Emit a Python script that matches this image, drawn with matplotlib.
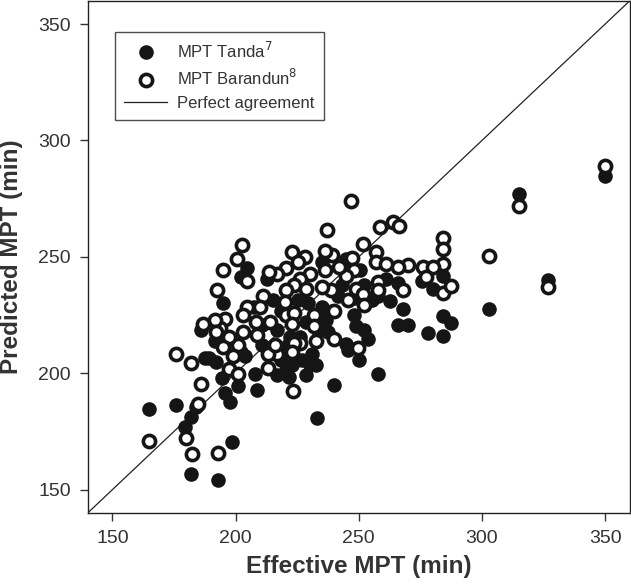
import matplotlib
import matplotlib.pyplot as plt
from matplotlib.lines import Line2D
matplotlib.use('Agg')

plt.rcParams['font.family'] = ['Liberation Sans', 'DejaVu Sans']

# MPT Tanda (filled)
tanda_x = [350, 315.2, 327, 303, 278, 284.3, 287.4, 284.3, 284.1, 280, 275.5,
           268.1, 266.1, 270.2, 262.8, 266.1, 258, 250.5, 252.2, 252.2, 253.8,
           250.2, 248.9, 248.1, 244.8, 245.7, 240, 232.9, 230.1, 232.6, 230.9,
           226.9, 222.8, 226, 222, 217, 217, 208.9, 207.7, 201, 197.9, 195.8,
           194.6, 198.7, 192.8, 182.1, 182, 179.4, 175.8, 164.7, 184, 187.6,
           189.3, 192, 191.7, 195, 202.3, 204.8, 202.3, 203.9, 186, 212.6,
           225.2, 229.3, 235, 239.1, 241.5, 236.6, 228.4, 233.4, 237.5, 261.2,
           258, 255.5, 244.8, 235, 243.2, 248.1, 218.5, 215.3, 207.4, 210.7,
           221.1, 218.5, 210.7, 220.3, 221.9, 228.4]
tanda_y = [284.7, 277.1, 240, 227.6, 217.1, 216, 221.6, 224.8, 242, 236.4, 239.6,
           227.6, 220.6, 220.6, 231.1, 238.8, 199.7, 244.4, 238, 218.7, 214.7,
           205.8, 220.3, 225.1, 212.6, 209.9, 195.1, 180.9, 203.4, 203.4, 208.2,
           205.8, 203.4, 215.5, 215.5, 218.7, 199.4, 193, 199.7, 194.6, 187.8,
           191.7, 197.8, 170.4, 154.3, 156.8, 181.4, 176.9, 186.5, 184.6, 185.7,
           206.6, 206.6, 205, 213.9, 230.3, 241.2, 245.3, 209, 207.4, 218.7,
           240.4, 231.6, 230, 228.4, 226.7, 233.2, 222.7, 221.9, 218.7, 217.9,
           240.4, 233.2, 231.6, 249, 247.7, 237.9, 232.4, 226.7, 231.6, 228.4,
           220.8, 212.3, 205.8, 212.3, 201.5, 198.3, 199.4]

# MPT Barandun (open)
barandun_x = [350, 315.2, 327, 303, 247, 237, 258.7, 264.1, 266.3, 251.9, 284.3,
              284.3, 284.3, 284.3, 287.4, 270.2, 266, 276, 280.3, 277.4, 268.1,
              257.1, 257.1, 261.2, 258, 258, 247.3, 248.1, 244.8, 248.9, 251.9,
              245.7, 252.2, 249.8, 240, 240, 238.6, 239.1, 236.3, 236.3, 235,
              242.1, 228, 222.9, 225.2, 230.1, 226, 220.6, 216.7, 213.5, 223.9,
              228.8, 220.3, 220, 220.3, 223.6, 231.8, 231.8, 222.8, 232.6, 226,
              223.6, 222.9, 216.7, 213, 215.9, 213, 223.3, 214.1, 211, 210,
              208.2, 208.9, 204.6, 203, 203, 201, 197.4, 195.8, 193.8, 191.7,
              192, 186.6, 192.5, 195.1, 204.8, 200.7, 202.8, 197.4, 201.1, 185.9,
              184.7, 175.7, 182.1, 179.8, 182.2, 192.7, 164.7, 199, 195]
barandun_y = [289, 271.8, 237.2, 250.2, 274.2, 261.5, 262.8, 265, 263.1, 255.7,
              258.3, 253.3, 246.9, 234.3, 237.7, 246.5, 245.6, 245.7, 245.7, 241.2,
              235.6, 252.2, 247.7, 246.9, 239.3, 235.6, 249.6, 244.4, 242, 236.4,
              234, 231.6, 229.2, 210.7, 214.7, 226.7, 235.6, 250.9, 252.5, 244.4,
              237.2, 245.7, 250.1, 252.2, 247.7, 242.8, 240.4, 245.3, 242.8, 243.6,
              237.9, 236.4, 235.6, 230.8, 225.1, 225.9, 225.1, 220.3, 221.1, 213.9,
              213.1, 213.1, 209, 208.2, 208.2, 212.3, 202.3, 192.5, 222.2, 233.2,
              228.4, 221.9, 216.3, 228.4, 225.1, 217.9, 212.3, 215.5, 223.5, 219.5,
              222.7, 217.9, 221.1, 235.6, 244.4, 239.6, 249.3, 254.9, 201.8, 199.7,
              195.4, 186.8, 208.1, 204.5, 172, 165.3, 165.6, 170.8, 207.4, 211.5]

ticks = [150, 200, 250, 300, 350]

fig = plt.figure(figsize=(6.31, 5.88), dpi=100)
ax = fig.add_axes([0.139, 0.1276, 0.859, 0.871])

ax.plot([140, 360], [140, 360], color='#222222', lw=0.9, zorder=1)
ax.plot(tanda_x, tanda_y, 'o', ls='none', ms=10.5, mfc='#151515',
        mec='#151515', mew=0, zorder=2)
ax.plot(barandun_x, barandun_y, 'o', ls='none', ms=8.8, mfc='white',
        mec='#151515', mew=2.6, zorder=3)

ax.set_xlim(140, 360)
ax.set_ylim(140, 360)
ax.set_xticks(ticks)
ax.set_yticks(ticks)
ax.tick_params(direction='out', length=6, width=1, labelsize=14,
               labelcolor='#333333', color='#333333', pad=6)
for sp in ax.spines.values():
    sp.set_color('#222222')
    sp.set_linewidth(1)

ax.set_xlabel('Effective MPT (min)', fontsize=17.5, fontweight='bold',
              color='#333333', labelpad=6)
ax.set_ylabel('Predicted MPT (min)', fontsize=17.5, fontweight='bold',
              color='#333333', labelpad=11)

handles = [
    Line2D([], [], ls='none', marker='o', ms=10.5, mfc='#151515', mec='#151515',
           mew=0),
    Line2D([], [], ls='none', marker='o', ms=8.8, mfc='white', mec='#151515',
           mew=2.6),
    Line2D([], [], color='#222222', lw=0.9),
]
labels = ['MPT Tanda$^7$', 'MPT Barandun$^8$', 'Perfect agreement']
leg = ax.legend(handles, labels, loc='upper left', bbox_to_anchor=(0.05, 0.94),
                fontsize=12, frameon=True, fancybox=False, borderpad=0.55,
                labelspacing=0.45, handlelength=2.6, handletextpad=0.6,
                borderaxespad=0)
leg.get_frame().set_edgecolor('#222222')
leg.get_frame().set_linewidth(1)
for t in leg.get_texts():
    t.set_color('#333333')

fig.savefig('out.png', dpi=100)
